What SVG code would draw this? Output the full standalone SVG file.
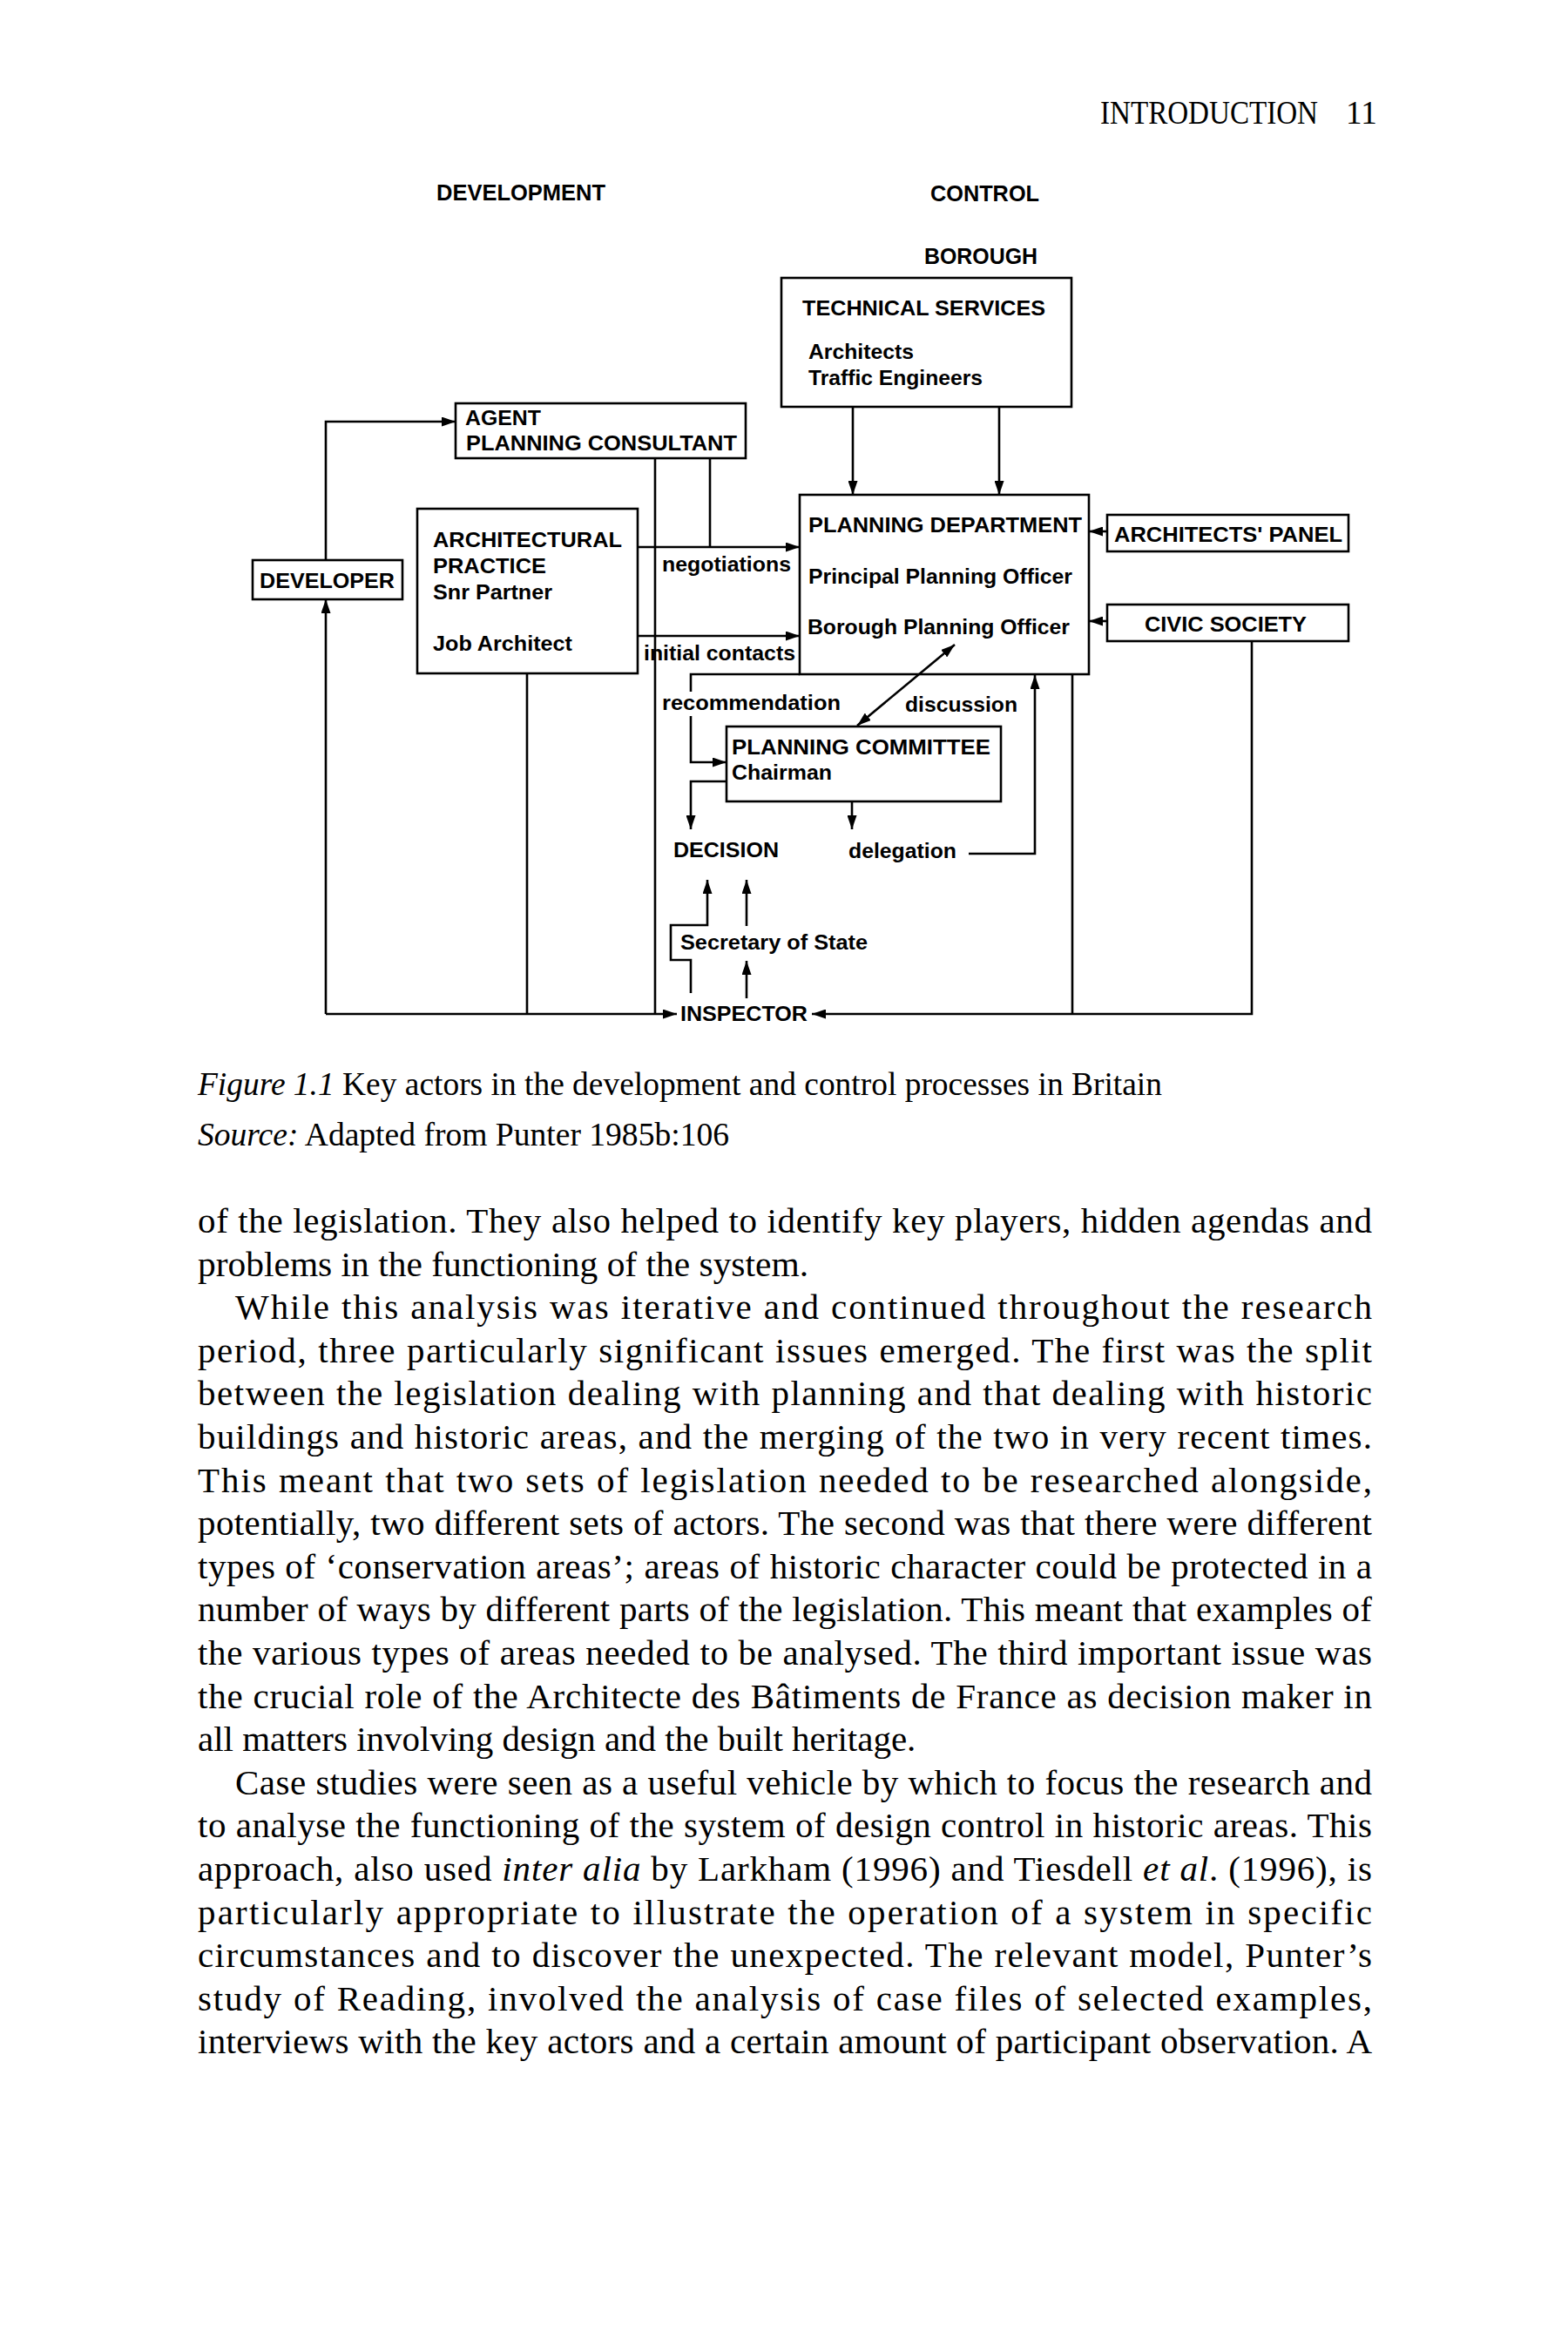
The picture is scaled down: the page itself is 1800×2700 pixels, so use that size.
<svg xmlns="http://www.w3.org/2000/svg" width="1800" height="2700" viewBox="0 0 1800 2700">
<defs>
<marker id="ah" markerUnits="userSpaceOnUse" markerWidth="17" markerHeight="11" refX="16" refY="5.5" orient="auto-start-reverse"><path d="M0,0 L16,5.5 L0,11 z" fill="#000"/></marker>
<style>
.d{font-family:"Liberation Sans",Arial,sans-serif;font-weight:bold;font-size:24px;fill:#000}
.h{font-size:25px}
.box{fill:none;stroke:#000;stroke-width:2.6}
.ln{fill:none;stroke:#000;stroke-width:2.6}
.ar{fill:none;stroke:#000;stroke-width:2.6;marker-end:url(#ah)}
.b{font-family:"Liberation Serif","Times New Roman",serif;font-size:41px;fill:#000}
.c{font-family:"Liberation Serif","Times New Roman",serif;font-size:37px;fill:#000}
.i{font-style:italic}
</style>
</defs>
<rect x="0" y="0" width="1800" height="2700" fill="#fff"/>

<text class="c" x="1263" y="142" font-size="32"><tspan textLength="250" lengthAdjust="spacingAndGlyphs">INTRODUCTION</tspan></text>
<text class="c" x="1545" y="142" font-size="32">11</text>

<g id="headers">
<text class="d h" x="501" y="230" textLength="194" lengthAdjust="spacingAndGlyphs">DEVELOPMENT</text>
<text class="d h" x="1068" y="231" textLength="125" lengthAdjust="spacingAndGlyphs">CONTROL</text>
<text class="d h" x="1061" y="303" textLength="130" lengthAdjust="spacingAndGlyphs">BOROUGH</text>
</g>

<g id="connectors">
<path class="ar" d="M374,643 V484 H523"/>
<path class="ln" d="M815,526 V628"/>
<path class="ar" d="M732,628 H918"/>
<path class="ar" d="M732,730 H918"/>
<path class="ln" d="M752,526 V1164"/>
<path class="ar" d="M979,467 V568"/>
<path class="ar" d="M1147,467 V568"/>
<path class="ar" d="M1271,610 H1250"/>
<path class="ar" d="M1271,713 H1250"/>
<path class="ln" d="M918,774 H793 V794"/>
<path class="ar" d="M793,822 V875 H834"/>
<path class="ar" d="M984,833 L1096,740" style="marker-start:url(#ah)"/>
<path class="ar" d="M834,897 H793 V952"/>
<path class="ar" d="M978,920 V952"/>
<path class="ar" d="M1112,980 H1188 V775"/>
<path class="ar" d="M793,1140 V1102 H770 V1062 H812 V1010"/>
<path class="ar" d="M857,1063 V1010"/>
<path class="ar" d="M857,1146 V1103"/>
<path class="ar" d="M374,1164 V688"/>
<path class="ar" d="M374,1164 H777"/>
<path class="ln" d="M605,773 V1164"/>
<path class="ln" d="M1231,775 V1164"/>
<path class="ar" d="M1437,736 V1164 H932"/>
</g>

<g id="technical-services">
<rect class="box" x="897" y="319" width="333" height="148"/>
<text class="d" x="921" y="362" textLength="279" lengthAdjust="spacingAndGlyphs">TECHNICAL SERVICES</text>
<text class="d" x="928" y="412" textLength="121" lengthAdjust="spacingAndGlyphs">Architects</text>
<text class="d" x="928" y="442" textLength="200" lengthAdjust="spacingAndGlyphs">Traffic Engineers</text>
</g>

<g id="agent">
<rect class="box" x="523" y="463" width="333" height="63"/>
<text class="d" x="534" y="488" textLength="87" lengthAdjust="spacingAndGlyphs">AGENT</text>
<text class="d" x="535" y="517" textLength="311" lengthAdjust="spacingAndGlyphs">PLANNING CONSULTANT</text>
</g>

<g id="developer">
<rect class="box" x="290" y="643" width="172" height="45"/>
<text class="d" x="298" y="675" textLength="155" lengthAdjust="spacingAndGlyphs">DEVELOPER</text>
</g>

<g id="architectural-practice">
<rect class="box" x="479" y="584" width="253" height="189"/>
<text class="d" x="497" y="628" textLength="217" lengthAdjust="spacingAndGlyphs">ARCHITECTURAL</text>
<text class="d" x="497" y="658" textLength="130" lengthAdjust="spacingAndGlyphs">PRACTICE</text>
<text class="d" x="497" y="688" textLength="137" lengthAdjust="spacingAndGlyphs">Snr Partner</text>
<text class="d" x="497" y="747" textLength="160" lengthAdjust="spacingAndGlyphs">Job Architect</text>
</g>

<g id="edge-labels">
<text class="d" x="760" y="656" textLength="148" lengthAdjust="spacingAndGlyphs">negotiations</text>
<text class="d" x="739" y="758" textLength="174" lengthAdjust="spacingAndGlyphs">initial contacts</text>
<text class="d" x="760" y="815" textLength="205" lengthAdjust="spacingAndGlyphs">recommendation</text>
<text class="d" x="1039" y="817" textLength="129" lengthAdjust="spacingAndGlyphs">discussion</text>
<text class="d" x="974" y="985" textLength="124" lengthAdjust="spacingAndGlyphs">delegation</text>
</g>

<g id="planning-department">
<rect class="box" x="918" y="568" width="332" height="206"/>
<text class="d" x="928" y="611" textLength="314" lengthAdjust="spacingAndGlyphs">PLANNING DEPARTMENT</text>
<text class="d" x="928" y="670" textLength="303" lengthAdjust="spacingAndGlyphs">Principal Planning Officer</text>
<text class="d" x="927" y="728" textLength="301" lengthAdjust="spacingAndGlyphs">Borough Planning Officer</text>
</g>

<g id="architects-panel">
<rect class="box" x="1271" y="591" width="277" height="42"/>
<text class="d" x="1279" y="622" textLength="262" lengthAdjust="spacingAndGlyphs">ARCHITECTS' PANEL</text>
</g>

<g id="civic-society">
<rect class="box" x="1271" y="694" width="277" height="42"/>
<text class="d" x="1314" y="725" textLength="186" lengthAdjust="spacingAndGlyphs">CIVIC SOCIETY</text>
</g>

<g id="planning-committee">
<rect class="box" x="834" y="834" width="315" height="86"/>
<text class="d" x="840" y="866" textLength="297" lengthAdjust="spacingAndGlyphs">PLANNING COMMITTEE</text>
<text class="d" x="840" y="895" textLength="115" lengthAdjust="spacingAndGlyphs">Chairman</text>
</g>

<g id="decision">
<text class="d" x="773" y="984" textLength="121" lengthAdjust="spacingAndGlyphs">DECISION</text>
</g>

<g id="secretary-of-state">
<text class="d" x="781" y="1090" textLength="215" lengthAdjust="spacingAndGlyphs">Secretary of State</text>
</g>

<g id="inspector">
<text class="d" x="781" y="1172" textLength="146" lengthAdjust="spacingAndGlyphs">INSPECTOR</text>
</g>

<g id="caption">
<text class="c" x="227" y="1257" textLength="1107" lengthAdjust="spacingAndGlyphs"><tspan class="i">Figure 1.1</tspan> Key actors in the development and control processes in Britain</text>
<text class="c" x="227" y="1315" textLength="610" lengthAdjust="spacingAndGlyphs"><tspan class="i">Source:</tspan> Adapted from Punter 1985b:106</text>
</g>

<g id="body">
<text class="b" x="227" y="1415" textLength="1348" lengthAdjust="spacing">of the legislation. They also helped to identify key players, hidden agendas and</text>
<text class="b" x="227" y="1464.6" textLength="701" lengthAdjust="spacingAndGlyphs">problems in the functioning of the system.</text>
<text class="b" x="270" y="1514.2" textLength="1305" lengthAdjust="spacing">While this analysis was iterative and continued throughout the research</text>
<text class="b" x="227" y="1563.8" textLength="1348" lengthAdjust="spacing">period, three particularly significant issues emerged. The first was the split</text>
<text class="b" x="227" y="1613.4" textLength="1348" lengthAdjust="spacing">between the legislation dealing with planning and that dealing with historic</text>
<text class="b" x="227" y="1663" textLength="1348" lengthAdjust="spacing">buildings and historic areas, and the merging of the two in very recent times.</text>
<text class="b" x="227" y="1712.6" textLength="1348" lengthAdjust="spacing">This meant that two sets of legislation needed to be researched alongside,</text>
<text class="b" x="227" y="1762.2" textLength="1348" lengthAdjust="spacing">potentially, two different sets of actors. The second was that there were different</text>
<text class="b" x="227" y="1811.8" textLength="1348" lengthAdjust="spacing">types of ‘conservation areas’; areas of historic character could be protected in a</text>
<text class="b" x="227" y="1861.4" textLength="1348" lengthAdjust="spacing">number of ways by different parts of the legislation. This meant that examples of</text>
<text class="b" x="227" y="1911" textLength="1348" lengthAdjust="spacing">the various types of areas needed to be analysed. The third important issue was</text>
<text class="b" x="227" y="1960.6" textLength="1348" lengthAdjust="spacing">the crucial role of the Architecte des Bâtiments de France as decision maker in</text>
<text class="b" x="227" y="2010.2">all matters involving design and the built heritage.</text>
<text class="b" x="270" y="2059.8" textLength="1305" lengthAdjust="spacing">Case studies were seen as a useful vehicle by which to focus the research and</text>
<text class="b" x="227" y="2109.4" textLength="1348" lengthAdjust="spacing">to analyse the functioning of the system of design control in historic areas. This</text>
<text class="b" x="227" y="2159" textLength="1348" lengthAdjust="spacing">approach, also used <tspan class="i">inter alia</tspan> by Larkham (1996) and Tiesdell <tspan class="i">et al</tspan>. (1996), is</text>
<text class="b" x="227" y="2208.6" textLength="1348" lengthAdjust="spacing">particularly appropriate to illustrate the operation of a system in specific</text>
<text class="b" x="227" y="2258.2" textLength="1348" lengthAdjust="spacing">circumstances and to discover the unexpected. The relevant model, Punter’s</text>
<text class="b" x="227" y="2307.8" textLength="1348" lengthAdjust="spacing">study of Reading, involved the analysis of case files of selected examples,</text>
<text class="b" x="227" y="2357.4" textLength="1348" lengthAdjust="spacing">interviews with the key actors and a certain amount of participant observation. A</text>
</g>
</svg>
